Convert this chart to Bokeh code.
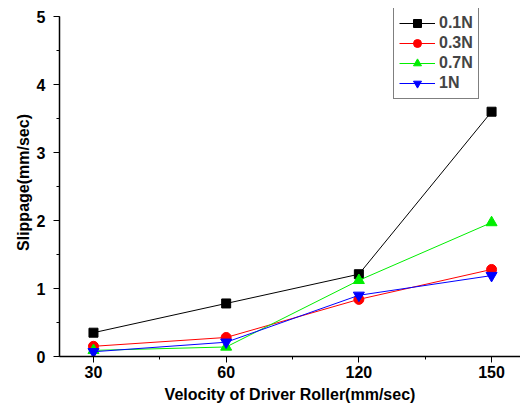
from bokeh.plotting import figure
from bokeh.models import Range1d, FixedTicker, SingleIntervalTicker, Legend, LegendItem
from bokeh.embed import file_html
from bokeh.resources import INLINE

speeds = ["30", "60", "120", "150"]
load_01 = [0.35, 0.78, 1.21, 3.60]
load_03 = [0.15, 0.28, 0.84, 1.28]
load_07 = [0.09, 0.14, 1.12, 1.97]
load_1 = [0.07, 0.21, 0.90, 1.19]
labels = ["0.1N", "0.3N", "0.7N", "1N"]
colors = ["#000000", "#ff0000", "#00ee00", "#0000ff"]
markers = ["square", "circle", "triangle", "inverted_triangle"]
sizes = [9, 10, 11, 11]

xs = list(range(len(speeds)))
FONT = "Liberation Sans"

p = figure(width=520, height=410, output_backend="svg", toolbar_location=None,
           x_range=Range1d(-0.256, 3.218), y_range=Range1d(0, 5.118),
           min_border_left=59, min_border_right=0, min_border_top=8, min_border_bottom=54)
p.outline_line_color = None
p.xgrid.visible = False
p.ygrid.visible = False
p.background_fill_color = "white"
p.border_fill_color = "white"

p.xaxis.ticker = FixedTicker(ticks=xs, minor_ticks=[i + 0.5 for i in xs[:-1]])
p.xaxis.major_label_overrides = {i: s for i, s in zip(xs, speeds)}
p.yaxis.ticker = SingleIntervalTicker(interval=1, num_minor_ticks=2)
p.yaxis.bounds = (0, 5)

for ax in (p.xaxis, p.yaxis):
    ax.axis_line_color = "black"
    ax.axis_line_width = 1.5
    ax.major_tick_line_color = "black"
    ax.minor_tick_line_color = "black"
    ax.major_tick_in = 0
    ax.major_tick_out = 6
    ax.minor_tick_in = 0
    ax.minor_tick_out = 3
    ax.major_label_text_font = FONT
    ax.major_label_text_font_style = "bold"
    ax.major_label_text_font_size = "16px"
    ax.major_label_text_color = "black"
    ax.axis_label_text_font = FONT
    ax.axis_label_text_font_style = "bold"
    ax.axis_label_text_font_size = "16px"
    ax.axis_label_text_color = "black"

p.xaxis.axis_label = "Velocity of Driver Roller(mm/sec)"
p.yaxis.axis_label = "Slippage(mm/sec)"
p.xaxis.major_label_standoff = 3
p.xaxis.axis_label_standoff = 5
p.yaxis.major_label_standoff = 8
p.yaxis.axis_label_standoff = 2

items = []
for vals, lab, col, mk, sz in zip([load_01, load_03, load_07, load_1], labels, colors, markers, sizes):
    r1 = p.line(xs, vals, line_color=col, line_width=1)
    r2 = p.scatter(xs, vals, marker=mk, size=sz, fill_color=col, line_color=col)
    items.append(LegendItem(label=lab, renderers=[r1, r2]))

legend = Legend(items=items, location=(334, 257))
legend.border_line_color = "black"
legend.border_line_width = 1
legend.label_text_font = FONT
legend.label_text_font_style = "bold"
legend.label_text_font_size = "16px"
legend.glyph_width = 36
legend.glyph_height = 20
legend.label_height = 20
legend.label_standoff = 4
legend.spacing = 0
legend.padding = 5
legend.margin = 0
legend.background_fill_alpha = 1
p.add_layout(legend, "center")

open("out.html", "w").write(file_html(p, INLINE))
